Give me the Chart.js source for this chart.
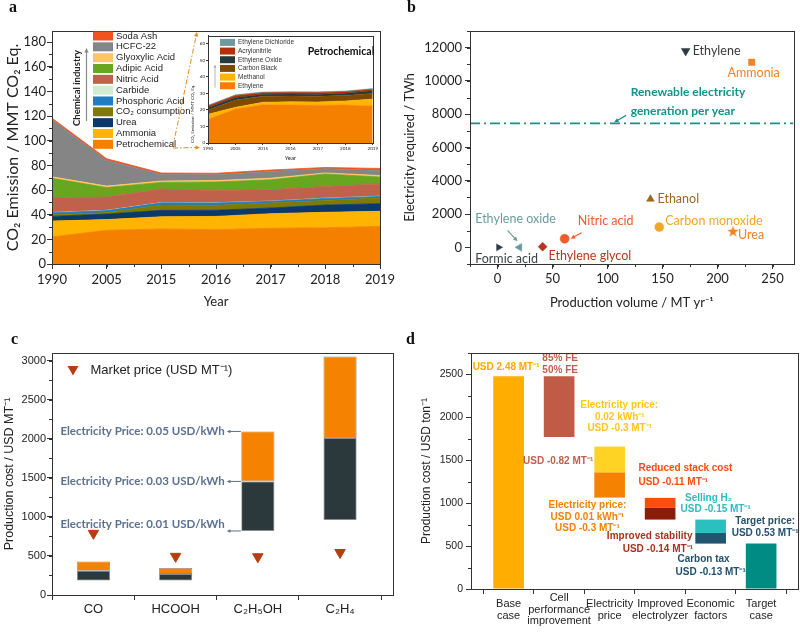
<!DOCTYPE html>
<html>
<head>
<meta charset="utf-8">
<script src="https://cdn.jsdelivr.net/npm/chart.js@4.4.0/dist/chart.umd.min.js"></script>
<style>
  body { margin: 0; background: #fff; }
  #wrap { position: relative; width: 800px; height: 636px; }
  canvas { position: absolute; }
</style>
</head>
<body>
<div id="wrap">
  <canvas id="ca" width="400" height="318" style="left:0;top:0"></canvas>
  <canvas id="ci" width="193" height="133" style="left:186px;top:32px"></canvas>
  <canvas id="cb" width="400" height="318" style="left:400px;top:0"></canvas>
  <canvas id="cc" width="400" height="318" style="left:0;top:318px"></canvas>
  <canvas id="cd" width="400" height="318" style="left:400px;top:318px"></canvas>
</div>
<script>
// ---------- panel a : chemical industry emissions (MMT CO2 eq.)
const years = ['1990', '2005', '2015', '2016', '2017', '2018', '2019'];
const petrochemical = [22, 27.3, 28.4, 27.8, 28.9, 29.4, 30.5];
const ammonia = [12.8, 8.7, 9.9, 10.8, 11.9, 12.5, 12.2];
const urea = [3.8, 4.5, 5.2, 5.0, 4.6, 5.9, 6.2];
const co2Consumption = [1.2, 1.3, 4.3, 4.0, 4.0, 3.8, 4.6];
const phosphoricAcid = [1.7, 1.5, 1.8, 1.9, 1.4, 1.6, 1.3];
const carbide = [0.3, 0.2, 0.2, 0.2, 0.2, 0.2, 0.2];
const nitricAcid = [11.8, 10.8, 11, 9.9, 9.2, 9.5, 9.9];
const adipicAcid = [15.9, 7.7, 5.4, 6.9, 8.1, 10.1, 5.6];
const glyoxylicAcid = [1.2, 1.2, 1.1, 1.2, 1.3, 0.9, 1.3];
const hcfc22 = [46.3, 20.8, 5.3, 4.7, 5.5, 3.4, 4.1];
const sodaAsh = [1.3, 1.4, 1.2, 1.2, 1.1, 1.0, 1.6];

// inset : petrochemical breakdown
const ethylene = [14.4, 20.6, 23.2, 23, 22.9, 23, 22.4];
const methanol = [3, 1, 1.5, 2, 2, 2.5, 4.2];
const carbonBlack = [2.6, 4.4, 3.6, 3.5, 3.4, 3.3, 3.4];
const ethyleneOxide = [1.4, 1.6, 1.2, 1.2, 1.3, 1.3, 1.6];
const acrylonitrile = [1, 1.2, 1, 1, 1, 1, 1];
const ethyleneDichloride = [0.4, 0.4, 0.4, 0.4, 0.4, 0.4, 0.4];

// ---------- panel b : electricity need vs production volume
const products = ['Ethylene', 'Ammonia', 'Ethanol', 'Carbon monoxide', 'Urea',
  'Nitric acid', 'Ethylene glycol', 'Ethylene oxide', 'Formic acid'];
const productionVolume = [171, 231, 139, 147, 214, 61, 41, 20, 1];
const electricityRequired = [11800, 11120, 2900, 1220, 960, 520, 40, 0, 0];
const renewableGeneration = 7450;
const bTicksX = [0, 50, 100, 150, 200, 250];
const bTicksY = [0, 2000, 4000, 6000, 8000, 10000, 12000];

// ---------- panel c : production cost (USD/MT)
const cProducts = ['CO', 'HCOOH', 'C₂H₅OH', 'C₂H₄'];
const costAt001 = [185, 185, 820, 960];
const costAt003 = [310, 270, 1455, 2010];
const costAt005 = [430, 345, 2095, 3055];
const marketPrice = [790, 495, 490, 545];
const cTicksY = [0, 500, 1000, 1500, 2000, 2500, 3000];

// ---------- panel d : waterfall to target cost (USD/ton)
const dSteps = [['Base', 'case'], ['Cell', 'performance', 'improvement'], ['Electricity', 'price'],
  ['Improved', 'electrolyzer'], ['Economic', 'factors'], ['Target', 'case']];
const upperRange = [[0, 2480], [1770, 2480], [1360, 1660], [945, 1062], [653, 809], [0, 530]];
const lowerRange = [null, null, [1065, 1360], [809, 945], [529, 653], null];
const dTicksY = [0, 500, 1000, 1500, 2000, 2500];

const INK = '#333';
Chart.defaults.font.family = 'Lato';
Chart.defaults.color = '#222';
Chart.defaults.animation = false;
Chart.defaults.plugins.legend.display = false;
Chart.defaults.plugins.tooltip.enabled = false;

function arrow(ctx, x1, y1, x2, y2, color, w, head, dash) {
  ctx.save();
  ctx.strokeStyle = color; ctx.fillStyle = color; ctx.lineWidth = w;
  if (dash) ctx.setLineDash(dash);
  const a = Math.atan2(y2 - y1, x2 - x1);
  ctx.beginPath(); ctx.moveTo(x1, y1);
  ctx.lineTo(x2 - Math.cos(a) * head * 0.8, y2 - Math.sin(a) * head * 0.8); ctx.stroke();
  ctx.setLineDash([]);
  ctx.beginPath(); ctx.moveTo(x2, y2);
  ctx.lineTo(x2 - head * Math.cos(a - 0.45), y2 - head * Math.sin(a - 0.45));
  ctx.lineTo(x2 - head * Math.cos(a + 0.45), y2 - head * Math.sin(a + 0.45));
  ctx.closePath(); ctx.fill();
  ctx.restore();
}

// fixed tick lists, plain number labels
function fixedTicks(list) {
  return s => { s.ticks = list.map(v => ({value: v})); };
}

// box around plot, minor ticks, panel letter
Chart.register({
  id: 'frame',
  afterDraw(chart, args, o) {
    const {ctx, chartArea: a} = chart;
    ctx.save();
    ctx.strokeStyle = INK; ctx.lineWidth = 1;
    ctx.strokeRect(Math.round(a.left) + 0.5, Math.round(a.top) + 0.5,
      Math.round(a.right - a.left), Math.round(a.bottom - a.top));
    (o.minor || []).forEach(m => {
      const s = chart.scales[m.axis];
      ctx.beginPath();
      for (let v = Math.ceil(s.min / m.step) * m.step; v <= s.max + 1e-9; v += m.step) {
        const p = Math.round(s.getPixelForValue(v)) + 0.5;
        if (s.isHorizontal()) { ctx.moveTo(p, a.bottom); ctx.lineTo(p, a.bottom + m.len); }
        else { ctx.moveTo(a.left, p); ctx.lineTo(a.left - m.len, p); }
      }
      ctx.stroke();
    });
    if (o.letter) {
      ctx.font = 'bold 16px "Liberation Serif"'; ctx.fillStyle = '#111';
      ctx.textBaseline = 'middle';
      ctx.fillText(o.letter, o.lx, o.ly);
    }
    ctx.restore();
  }
});

// text notes and arrows anchored on the scales
Chart.register({
  id: 'notes',
  afterDatasetsDraw(chart, args, o) {
    const {ctx} = chart;
    const xs = chart.scales.x, ys = chart.scales.y;
    (o.items || []).forEach(n => {
      const x = xs.getPixelForValue(n.x) + (n.dx || 0);
      const y = ys.getPixelForValue(n.y) + (n.dy || 0);
      ctx.save();
      ctx.font = n.font || o.font; ctx.fillStyle = n.color;
      ctx.textAlign = n.align || 'center'; ctx.textBaseline = 'middle';
      ctx.fillText(n.t, x, y);
      ctx.restore();
    });
    (o.arrows || []).forEach(r => {
      const x = xs.getPixelForValue(r.x), y = ys.getPixelForValue(r.y);
      arrow(ctx, x + r.x1, y + r.y1, x + r.x2, y + r.y2, r.color, r.w || 1.2, r.head || 5);
    });
  }
});

function grid(len) {
  return {drawOnChartArea: false, drawTicks: true, tickLength: len, color: INK};
}
const border = {color: INK, width: 1};

// ================= panel a
const chemSeries = [
  {label: 'Petrochemical', data: petrochemical, color: '#f58000'},
  {label: 'Ammonia', data: ammonia, color: '#ffb400'},
  {label: 'Urea', data: urea, color: '#0b3a6a'},
  {label: 'CO₂ consumption', data: co2Consumption, color: '#7e7a02'},
  {label: 'Phosphoric Acid', data: phosphoricAcid, color: '#217dc2'},
  {label: 'Carbide', data: carbide, color: '#d3ebd0'},
  {label: 'Nitric Acid', data: nitricAcid, color: '#c0624b'},
  {label: 'Adipic Acid', data: adipicAcid, color: '#69a61f'},
  {label: 'Glyoxylic Acid', data: glyoxylicAcid, color: '#fcc567'},
  {label: 'HCFC-22', data: hcfc22, color: '#858585'},
  {label: 'Soda Ash', data: sodaAsh, color: '#f1531f'}
];

new Chart(document.getElementById('ca'), {
  type: 'line',
  data: {
    labels: years,
    datasets: chemSeries.map((s, i) => ({
      label: s.label, data: s.data, backgroundColor: s.color, borderColor: s.color,
      borderWidth: 0.8, fill: i === 0 ? 'origin' : '-1', pointRadius: 0, tension: 0
    }))
  },
  options: {
    responsive: false,
    layout: {padding: {left: 0, right: 20, top: 31, bottom: 0}},
    scales: {
      x: {
        offset: false, afterFit: s => { s.height = 54; },
        grid: grid(5), border,
        ticks: {font: {size: 13}, padding: 3, maxRotation: 0, autoSkip: false},
        title: {display: true, text: 'Year', font: {size: 13}, padding: {top: 0, bottom: 8}}
      },
      y: {
        stacked: true, min: 0, max: 189, afterFit: s => { s.width = 52; },
        grid: grid(5), border,
        ticks: {stepSize: 20, includeBounds: false, font: {size: 13}, padding: 1},
        title: {display: true, text: 'CO₂ Emission / MMT CO₂ Eq.', font: {size: 16}, padding: {top: 3, bottom: 0}}
      }
    },
    plugins: {
      frame: {letter: 'a', lx: 9, ly: 8, minor: [{axis: 'y', step: 10, len: 3}, {axis: 'x', step: 0.5, len: 3}]}
    }
  },
  plugins: [{
    id: 'chemLegend',
    afterDraw(chart) {
      const {ctx, chartArea: a} = chart;
      const x0 = a.left + 41, y0 = a.top + 5;
      ctx.save();
      ctx.font = '9.5px "Liberation Sans"'; ctx.textBaseline = 'middle';
      chemSeries.slice().reverse().forEach((s, k) => {
        const y = y0 + k * 10.83;
        ctx.fillStyle = s.color; ctx.fillRect(x0, y - 4.5, 20, 9);
        ctx.fillStyle = '#222'; ctx.fillText(s.label, x0 + 23, y);
      });
      ctx.save();
      ctx.translate(77, 88); ctx.rotate(-Math.PI / 2);
      ctx.font = 'bold 9.5px Lato'; ctx.textAlign = 'center'; ctx.fillStyle = '#222';
      ctx.fillText('Chemical industry', 0, 0);
      ctx.restore();
      arrow(ctx, 86.5, 121, 86.5, 48, '#8a8a8a', 1.2, 5);
      arrow(ctx, 173, 148, 200, 147.5, '#e8891c', 1, 5, [5, 2, 1.5, 2]);
      arrow(ctx, 173, 146, 197, 32, '#e8891c', 1, 5, [5, 2, 1.5, 2]);
      ctx.restore();
    }
  }]
});

// ----- inset
const petroSeries = [
  {label: 'Ethylene', data: ethylene, color: '#f58000'},
  {label: 'Methanol', data: methanol, color: '#ffb400'},
  {label: 'Carbon Black', data: carbonBlack, color: '#7e4a03'},
  {label: 'Ethylene Oxide', data: ethyleneOxide, color: '#26393b'},
  {label: 'Acrylonitrile', data: acrylonitrile, color: '#b3300c'},
  {label: 'Ethylene Dichloride', data: ethyleneDichloride, color: '#6f9a9f'}
];

new Chart(document.getElementById('ci'), {
  type: 'line',
  data: {
    labels: years,
    datasets: petroSeries.map((s, i) => ({
      label: s.label, data: s.data, backgroundColor: s.color, borderColor: s.color,
      borderWidth: 0.5, fill: i === 0 ? 'origin' : '-1', pointRadius: 0, tension: 0
    }))
  },
  options: {
    responsive: false,
    layout: {padding: {left: 0, right: 4, top: 2, bottom: 0}},
    scales: {
      x: {
        offset: false, afterFit: s => { s.height = 22; },
        grid: grid(2), border,
        ticks: {font: {size: 4.5}, padding: 1, maxRotation: 0, autoSkip: false},
        title: {display: true, text: 'Year', font: {size: 6}, padding: {top: 0, bottom: 3}}
      },
      y: {
        stacked: true, min: 0, max: 65, afterFit: s => { s.width = 22; },
        grid: grid(2), border,
        ticks: {stepSize: 5, includeBounds: false, font: {size: 4.5}, padding: 1},
        title: {display: true, text: 'CO₂ Emission / MMT CO₂ Eq.', align: 'start', font: {size: 4.5}, padding: {top: 4, bottom: 0}}
      }
    },
    plugins: {frame: {}}
  },
  plugins: [{
    id: 'petroLegend',
    afterDraw(chart) {
      const {ctx, chartArea: a} = chart;
      ctx.save();
      ctx.font = '6.5px "Liberation Sans"'; ctx.textBaseline = 'middle';
      petroSeries.slice().reverse().forEach((s, k) => {
        const y = a.top + 6.7 + k * 8.67;
        ctx.fillStyle = s.color; ctx.fillRect(a.left + 12, y - 3.5, 15, 7);
        ctx.fillStyle = '#333'; ctx.fillText(s.label, a.left + 30, y);
      });
      ctx.font = 'bold 10.5px Lato'; ctx.fillStyle = '#111'; ctx.textAlign = 'center';
      ctx.fillText('Petrochemical', a.left + 133, a.top + 16);
      arrow(ctx, a.left + 7, a.top + 52, a.left + 7, a.top + 29, '#999', 0.7, 3);
      ctx.restore();
    }
  }]
});

// ================= panel b
const star = document.createElement('canvas');
star.width = star.height = 13;
(() => {
  const c = star.getContext('2d');
  c.fillStyle = '#f58220'; c.beginPath();
  for (let k = 0; k < 10; k++) {
    const r = k % 2 ? 2.4 : 6, t = -Math.PI / 2 + k * Math.PI / 5;
    c.lineTo(6.5 + r * Math.cos(t), 6.8 + r * Math.sin(t));
  }
  c.fill();
})();

const bColors = ['#2d3b40', '#f58220', '#9b6a1e', '#f5a623', '#f58220', '#f15a29', '#b5361c', '#6a9aa0', '#2d3b40'];
const bText = ['#3a3a3a', '#f58220', '#9b6a1e', '#f5a623', '#f58220', '#f15a29', '#b5361c', '#6a9aa0', '#3a4448'];
const bStyle = ['triangle', 'rect', 'triangle', 'circle', star, 'circle', 'rectRot', 'triangle', 'triangle'];
const bRot = [180, 0, 0, 0, 0, 0, 0, -90, 90];
const bRad = [5, 4.5, 4.5, 4.5, 6, 4.5, 4.5, 4.5, 4];
const bLabelPos = [
  {dx: 7, dy: 0, align: 'left'}, {dx: 2, dy: 11}, {dx: 7, dy: 0, align: 'left'},
  {dx: 6, dy: -6, align: 'left'}, {dx: 5, dy: 4, align: 'left'}, {dx: 41, dy: -18},
  {dx: 6, dy: 9, align: 'left'}, {dx: -4, dy: -28}, {dx: 8, dy: 12}
];

new Chart(document.getElementById('cb'), {
  type: 'scatter',
  data: {
    datasets: [{
      data: productionVolume.map((x, i) => ({x, y: electricityRequired[i]})),
      pointStyle: bStyle, pointRotation: bRot, pointRadius: bRad,
      pointBackgroundColor: bColors, pointBorderColor: bColors, pointBorderWidth: 0.5
    }, {
      data: [{x: -25, y: renewableGeneration}, {x: 269, y: renewableGeneration}],
      showLine: true, borderColor: '#12928b', borderWidth: 1.6, borderDash: [10, 4, 2, 4], pointRadius: 0
    }]
  },
  options: {
    responsive: false,
    layout: {padding: {left: 0, right: 3, top: 31, bottom: 0}},
    scales: {
      x: {
        type: 'linear', min: -25, max: 269, afterFit: s => { s.height = 54; },
        afterBuildTicks: fixedTicks(bTicksX),
        grid: grid(5), border,
        ticks: {font: {size: 13}, padding: 2, callback: v => v},
        title: {display: true, text: 'Production volume / MT yr⁻¹', font: {size: 13}, padding: {top: 0, bottom: 7}}
      },
      y: {
        min: -1000, max: 13000, afterFit: s => { s.width = 70; },
        afterBuildTicks: fixedTicks(bTicksY),
        grid: grid(5), border,
        ticks: {font: {size: 13}, padding: 3, callback: v => v},
        title: {display: true, text: 'Electricity required / TWh', font: {size: 13}, padding: {top: 2, bottom: 0}}
      }
    },
    plugins: {
      frame: {letter: 'b', lx: 7, ly: 8, minor: [{axis: 'y', step: 1000, len: 3}, {axis: 'x', step: 25, len: 3}]},
      notes: {
        font: '12.5px Lato',
        items: products.map((p, i) => Object.assign({t: p, x: productionVolume[i], y: electricityRequired[i], color: bText[i]}, bLabelPos[i]))
          .concat([
            {t: 'Renewable electricity', x: 121, y: renewableGeneration, dy: -31, align: 'left', color: '#12928b', font: 'bold 12px Lato'},
            {t: 'generation per year', x: 121, y: renewableGeneration, dy: -12, align: 'left', color: '#12928b', font: 'bold 12px Lato'}
          ]),
        arrows: [
          {x: productionVolume[5], y: electricityRequired[5], x1: 17, y1: -6, x2: 6, y2: 0, color: '#f15a29'},
          {x: productionVolume[7], y: electricityRequired[7], x1: -12, y1: -17, x2: -2, y2: -6, color: '#6a9aa0'},
          {x: 106, y: renewableGeneration, x1: 12, y1: -8, x2: 0, y2: -1, color: '#12928b'}
        ]
      }
    }
  }
});

// ================= panel c
new Chart(document.getElementById('cc'), {
  type: 'bar',
  data: {
    datasets: [{
      data: costAt001.map((v, i) => ({x: i + 1, y: [v, costAt003[i]]})),
      backgroundColor: '#2b393c', borderColor: '#8a8a8a', borderWidth: 0.8, borderSkipped: false,
      grouped: false, barPercentage: 0.403, categoryPercentage: 1
    }, {
      data: costAt003.map((v, i) => ({x: i + 1, y: [v, costAt005[i]]})),
      backgroundColor: '#f58200', borderColor: '#8a8a8a', borderWidth: 0.8, borderSkipped: false,
      grouped: false, barPercentage: 0.403, categoryPercentage: 1
    }, {
      type: 'line', showLine: false,
      data: marketPrice.map((v, i) => ({x: i + 1, y: v})),
      pointStyle: 'triangle', pointRotation: 180, pointRadius: 6,
      pointBackgroundColor: '#b63d0e', pointBorderColor: '#b63d0e'
    }]
  },
  options: {
    responsive: false,
    layout: {padding: {left: 0, right: 5, top: 35, bottom: 0}},
    scales: {
      x: {
        type: 'linear', offset: false, min: 0.496, max: 4.644, afterFit: s => { s.height = 41; },
        afterBuildTicks: fixedTicks([1, 2, 3, 4]),
        grid: grid(5), border,
        ticks: {font: {family: 'Liberation Sans', size: 13}, padding: 2, maxRotation: 0, autoSkip: false, callback: v => cProducts[v - 1]}
      },
      y: {
        min: 0, max: 3100, afterFit: s => { s.width = 52; },
        afterBuildTicks: fixedTicks(cTicksY),
        grid: grid(5), border,
        ticks: {font: {family: 'Liberation Sans', size: 11}, padding: 1, callback: v => v},
        title: {display: true, text: 'Production cost / USD MT⁻¹', font: {family: 'Liberation Sans', size: 12.5}, padding: {top: 2, bottom: 0}}
      }
    },
    plugins: {
      frame: {letter: 'c', lx: 11, ly: 22, minor: [{axis: 'y', step: 250, len: 3}]},
      notes: {
        font: 'bold 11.5px Lato',
        items: [
          {t: 'Electricity Price: 0.05 USD/kWh', x: 3, dx: -33, y: costAt005[2], align: 'right', color: '#5a7190'},
          {t: 'Electricity Price: 0.03 USD/kWh', x: 3, dx: -33, y: costAt003[2], align: 'right', color: '#5a7190'},
          {t: 'Electricity Price: 0.01 USD/kWh', x: 3, dx: -33, y: costAt001[2], dy: -7, align: 'right', color: '#5a7190'}
        ],
        arrows: [
          {x: 3, y: costAt005[2], x1: -17, y1: 0, x2: -31, y2: 0, color: '#5a7190', w: 1, head: 4},
          {x: 3, y: costAt003[2], x1: -17, y1: 0, x2: -31, y2: 0, color: '#5a7190', w: 1, head: 4},
          {x: 3, y: costAt001[2], x1: -17, y1: 0, x2: -31, y2: 0, color: '#5a7190', w: 1, head: 4}
        ]
      }
    }
  },
  plugins: [{
    id: 'priceKey',
    afterDraw(chart) {
      const ctx = chart.ctx;
      ctx.save();
      ctx.fillStyle = '#b63d0e';
      ctx.beginPath(); ctx.moveTo(67.5, 48); ctx.lineTo(78.5, 48); ctx.lineTo(73, 57.5); ctx.closePath(); ctx.fill();
      ctx.fillStyle = '#222'; ctx.font = '13px "Liberation Sans"'; ctx.textBaseline = 'middle';
      ctx.fillText('Market price (USD MT⁻¹)', 90.5, 52.5);
      ctx.restore();
    }
  }]
});

// ================= panel d
const upperColors = ['#ffae00', '#c05c45', '#ffd324', '#ff4c10', '#2bbfbf', '#008c82'];
const lowerColors = [null, null, '#f58200', '#8b1c08', '#235470', null];
const dFont = 'bold 10px "Liberation Sans"';

new Chart(document.getElementById('cd'), {
  type: 'bar',
  data: {
    datasets: [{
      data: upperRange.map((r, i) => ({x: i, y: r})),
      backgroundColor: upperColors, grouped: false, barPercentage: 0.607, categoryPercentage: 1
    }, {
      data: lowerRange.map((r, i) => ({x: i, y: r})).filter(d => d.y),
      backgroundColor: lowerColors.filter(c => c), grouped: false, barPercentage: 0.607, categoryPercentage: 1
    }]
  },
  options: {
    responsive: false,
    layout: {padding: {left: 0, right: 2, top: 35, bottom: 0}},
    scales: {
      x: {
        type: 'linear', offset: false, min: -0.745, max: 5.73, afterFit: s => { s.height = 47; },
        afterBuildTicks: fixedTicks([0, 1, 2, 3, 4, 5]),
        grid: grid(5), border,
        ticks: {font: {family: 'Liberation Sans', size: 11, lineHeight: 1.06}, padding: 4, crossAlign: 'center',
          maxRotation: 0, minRotation: 0, autoSkip: false, callback: v => dSteps[v]}
      },
      y: {
        min: 0, max: 2750, afterFit: s => { s.width = 71; },
        afterBuildTicks: fixedTicks(dTicksY),
        grid: grid(5), border,
        ticks: {font: {family: 'Liberation Sans', size: 10.5}, padding: 3, callback: v => v},
        title: {display: true, text: 'Production cost / USD ton⁻¹', font: {family: 'Liberation Sans', size: 12}, padding: {top: 19, bottom: 0}}
      }
    },
    plugins: {
      frame: {letter: 'd', lx: 6, ly: 22, minor: [{axis: 'y', step: 250, len: 3}]},
      notes: {
        font: dFont,
        items: [
          {t: 'USD 2.48 MT⁻¹', x: -0.05, y: 2586, color: '#ffa800'},
          {t: '85% FE', x: 1.02, y: 2684, color: '#c0604a'},
          {t: '50% FE', x: 1.02, y: 2547, color: '#c0604a'},
          {t: 'USD -0.82 MT⁻¹', x: 0.98, y: 1489, color: '#c0604a'},
          {t: 'Electricity price:', x: 2.19, y: 2139, color: '#ffc61a'},
          {t: '0.02 kWh⁻¹', x: 2.2, y: 2002, color: '#ffc61a'},
          {t: 'USD -0.3 MT⁻¹', x: 2.2, y: 1870, color: '#ffc61a'},
          {t: 'Electricity price:', x: 1.56, y: 972, color: '#f58200'},
          {t: 'USD 0.01 kWh⁻¹', x: 1.56, y: 835, color: '#f58200'},
          {t: 'USD -0.3 MT⁻¹', x: 1.56, y: 704, color: '#f58200'},
          {t: 'Reduced stack cost', x: 2.57, y: 1412, align: 'left', color: '#ff4a12'},
          {t: 'USD -0.11 MT⁻¹', x: 2.57, y: 1249, align: 'left', color: '#ff4a12'},
          {t: 'Selling H₂', x: 3.96, y: 1054, color: '#2bbcbc'},
          {t: 'USD -0.15 MT⁻¹', x: 4.1, y: 925, color: '#2bbcbc'},
          {t: 'Improved stability', x: 3.64, y: 614, align: 'right', color: '#a8321c'},
          {t: 'USD -0.14 MT⁻¹', x: 3.65, y: 467, align: 'right', color: '#a8321c'},
          {t: 'Carbon tax', x: 3.86, y: 342, color: '#24506e'},
          {t: 'USD -0.13 MT⁻¹', x: 4.0, y: 198, color: '#24506e'},
          {t: 'Target price:', x: 5.08, y: 789, color: '#24506e'},
          {t: 'USD 0.53 MT⁻¹', x: 5.08, y: 653, color: '#24506e'}
        ]
      }
    }
  }
});
</script>
</body>
</html>
